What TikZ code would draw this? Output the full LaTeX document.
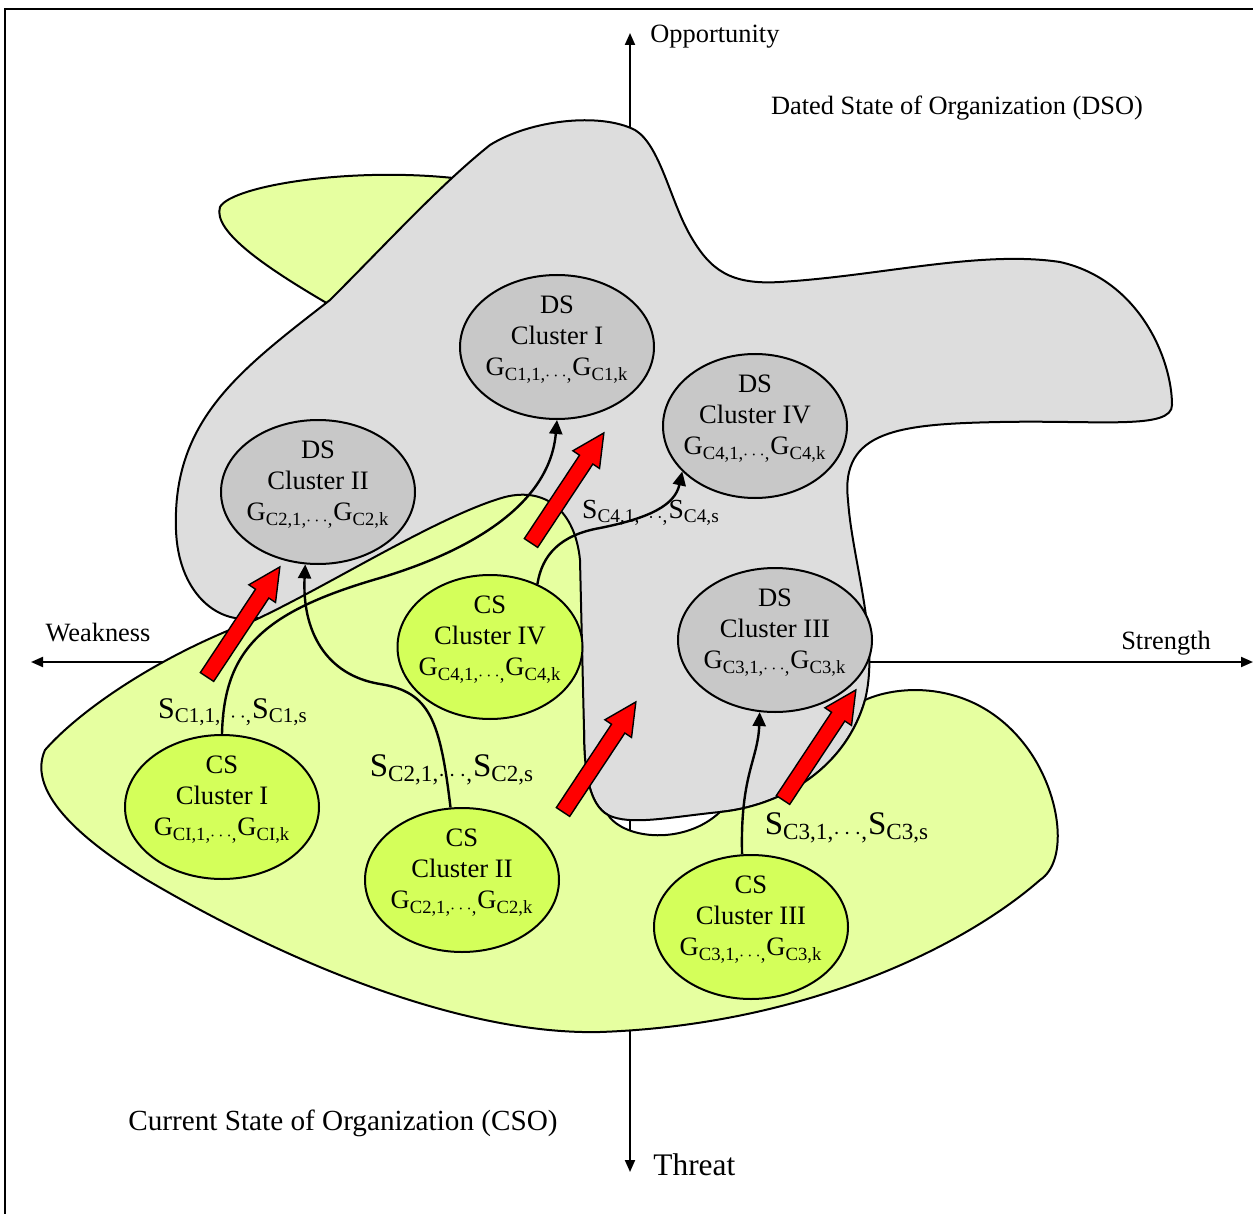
\documentclass[tikz,border=0pt]{standalone}
\usepackage{fontspec}
\setmainfont{Liberation Serif}
\usepackage{tikz}
\usetikzlibrary{arrows.meta,shapes.geometric}
\definecolor{dsogray}{HTML}{DDDDDD}
\definecolor{dsfill}{HTML}{C8C8C8}
\definecolor{csogreen}{HTML}{E6FFA0}
\definecolor{csfill}{HTML}{D4FF5A}
\newcommand{\fsz}[1]{\fontsize{#1}{#1}\selectfont}
\newcommand{\glist}[1]{G\textsubscript{#1,1,$\cdots$,}G\textsubscript{#1,k}}
\newcommand{\slist}[1]{S\textsubscript{#1,1,$\cdots$,}S\textsubscript{#1,s}}
\tikzset{
  dso/.style={draw=black, line width=1pt, fill=dsogray},
  cso/.style={draw=black, line width=1pt, fill=csogreen},
  ds/.style={ellipse, draw=black, line width=1pt, fill=dsfill, minimum width=97pt, minimum height=72pt,
    inner xsep=-4pt, inner ysep=-1.5pt, text depth=11pt, align=center, font=\fontsize{13.3}{15.5}\selectfont},
  cs/.style={ds, fill=csfill},
  link/.style={line width=1.2pt, -{Triangle[length=7pt,width=6.5pt]}},
  axis/.style={line width=1pt, {Triangle[length=6pt,width=5pt]}-{Triangle[length=6pt,width=5pt]}},
  redarrow/.style={draw=black, line width=0.7pt, fill=red},
  lab/.style={inner sep=0pt, font=\fsz{13.2}},
  slab/.style={inner sep=0pt},
  pageframe/.style={draw=black, line width=1pt},
}

\begin{document}
\begin{tikzpicture}[x=0.5pt, y=-0.5pt]
  \useasboundingbox (0,0) rectangle (1253,1214);

  % axes
  \coordinate (opp) at (630,33);
  \coordinate (thr) at (630,1172);
  \coordinate (wea) at (31,662);
  \coordinate (str) at (1253,662);
  \draw[axis] (thr) -- (opp);
  \draw[axis] (wea) -- (str);
  \node[lab, anchor=west] (oppl) at (650,37) {Opportunity};
  \node[lab, anchor=west, font=\fsz{15.7}] (thrl) at (653,1165) {Threat};
  \node[lab] (weal) at (98,633) {Weakness};
  \node[lab] (strl) at (1166,643) {Strength};
  \node[lab] (dso) at (957,108) {Dated State of Organization (DSO)};
  \node[lab, font=\fsz{14.6}] (cso) at (343,1123) {Current State of Organization (CSO)};

  % CSO lobe behind the DSO
  \path[cso] (330,305) .. controls (270,270) and (212,232) .. (220,207)
    .. controls (232,185) and (360,165) .. (470,180) -- (480,260) -- cycle;

  % DSO
  \path[dso] (865,700)
    .. controls (845,770) and (780,806) .. (720,812)
    .. controls (670,817) and (630,826) .. (608,815)
    .. controls (590,805) and (584,775) .. (584,730)
    -- (578,620)
    .. controls (480,610) and (330,625) .. (255,618)
    .. controls (215,625) and (178,590) .. (176,530)
    .. controls (172,420) and (240,370) .. (330,300)
    .. controls (390,240) and (440,185) .. (490,145)
    .. controls (530,120) and (600,112) .. (635,130)
    .. controls (660,145) and (670,200) .. (690,235)
    .. controls (710,270) and (730,285) .. (780,282)
    .. controls (880,276) and (980,250) .. (1060,262)
    .. controls (1140,280) and (1172,360) .. (1172,405)
    .. controls (1172,430) and (1100,420) .. (1000,422)
    .. controls (900,424) and (840,430) .. (848,500)
    .. controls (852,560) and (880,640) .. (865,700)
    -- cycle;

  % CSO
  \path[cso] (45,750)
    .. controls (80,710) and (160,655) .. (255,620)
    .. controls (330,585) and (440,515) .. (505,497)
    .. controls (545,487) and (575,510) .. (580,560)
    -- (584,730)
    .. controls (584,775) and (590,805) .. (608,815)
    .. controls (625,840) and (685,845) .. (720,812)
    .. controls (780,806) and (845,770) .. (865,700)
    .. controls (900,684) and (975,680) .. (1025,745)
    .. controls (1060,790) and (1070,860) .. (1040,880)
    .. controls (960,950) and (800,1025) .. (600,1032)
    .. controls (470,1035) and (300,970) .. (147,880)
    .. controls (90,845) and (25,795) .. (45,750)
    -- cycle;

  % clusters
  \node[ds] (dsI) at (557,347) {DS\\Cluster I\\\glist{C1}};
  \node[ds, minimum width=92pt] (dsIV) at (755,426) {DS\\Cluster IV\\\glist{C4}};
  \node[ds] (dsII) at (318,492) {DS\\Cluster II\\\glist{C2}};
  \node[ds] (dsIII) at (775,640) {DS\\Cluster III\\\glist{C3}};
  \node[cs, minimum width=92.5pt] (csIV) at (490,647) {CS\\Cluster IV\\\glist{C4}};
  \node[cs] (csI) at (222,807) {CS\\Cluster I\\\glist{CI}};
  \node[cs] (csII) at (462,880) {CS\\Cluster II\\\glist{C2}};
  \node[cs] (csIII) at (751,927) {CS\\Cluster III\\\glist{C3}};

  % strategies
  \draw[link] (csI.north) .. controls (224,650) and (262,612) .. (380,578)
    .. controls (480,548) and (550,500) .. (dsI.south);
  \draw[link] (csII.99) .. controls (440,720) and (430,692) .. (380,684)
    .. controls (325,675) and (302,630) .. (dsII.260);
  \draw[link] (csIII.97) .. controls (740,775) and (758,760) .. (dsIII.258);
  \draw[link] (csIV.53) .. controls (542,555) and (560,535) .. (600,528)
    .. controls (650,518) and (675,505) .. (dsIV.212);

  % moves
  \foreach \tx/\ty in {207/677, 531/543, 563/812, 783/800}
    \draw[redarrow, shift={(\tx,\ty)}, rotate=56.5]
      (0,-8) -- (100,-8) -- (100,-16) -- (132,0) -- (100,16) -- (100,8) -- (0,8) -- cycle;

  \node[slab, font=\fsz{15}] (sI) at (233,712) {\slist{C1}};
  \node[slab, font=\fsz{16.5}] (sII) at (452,770) {\slist{C2}};
  \node[slab, font=\fsz{16.5}] (sIII) at (847,828) {\slist{C3}};
  \node[slab, font=\fsz{13.8}] (sIV) at (651,513) {\slist{C4}};

  \draw[pageframe] (5,1214) -- (5,9) -- (1253,9);
\end{tikzpicture}
\end{document}
